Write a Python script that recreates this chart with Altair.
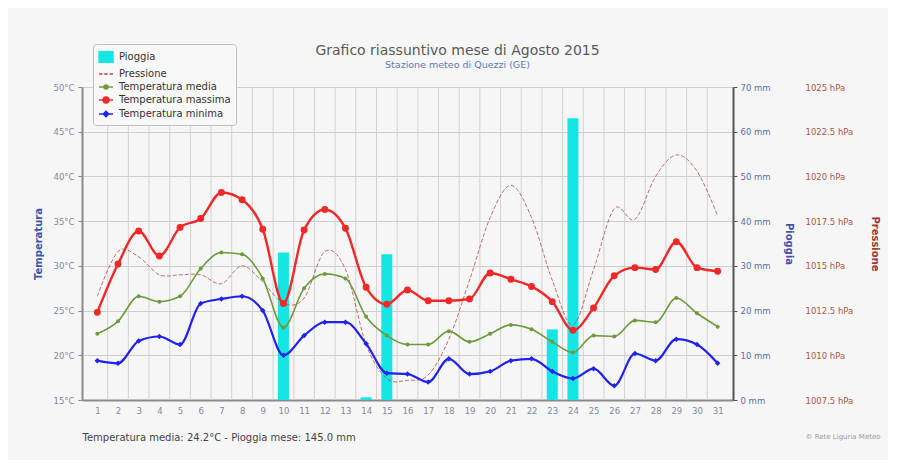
import altair as alt
import pandas as pd

# ---------------- data ----------------
days = list(range(1, 32))
t_max = [24.8, 30.2, 33.9, 31.1, 34.3, 35.3, 38.2, 37.4, 34.1, 25.8, 34.0, 36.3, 34.2, 27.6, 25.7, 27.3,
         26.1, 26.1, 26.3, 29.2, 28.5, 27.7, 26.0, 22.8, 25.3, 28.9, 29.8, 29.6, 32.7, 29.8, 29.4]
t_mean = [22.4, 23.8, 26.6, 26.0, 26.6, 29.7, 31.5, 31.3, 28.6, 23.1, 27.5, 29.1, 28.6, 24.3, 22.2, 21.2,
          21.2, 22.7, 21.5, 22.4, 23.4, 22.9, 21.5, 20.3, 22.2, 22.1, 23.9, 23.7, 26.4, 24.7, 23.2]
t_min = [19.4, 19.1, 21.6, 22.1, 21.2, 25.8, 26.3, 26.6, 25.0, 20.0, 22.2, 23.7, 23.7, 21.3, 18.0, 17.9,
         17.0, 19.6, 17.9, 18.2, 19.4, 19.6, 18.2, 17.4, 18.5, 16.6, 20.2, 19.4, 21.8, 21.2, 19.1]
rain = [0, 0, 0, 0, 0, 0, 0, 0, 0, 33.0, 0, 0, 0, 0.6, 32.6, 0,
        0, 0, 0, 0, 0, 0, 15.8, 63.0, 0, 0, 0, 0, 0, 0, 0]
pressure = [1013.3, 1015.8, 1015.5, 1014.5, 1014.5, 1014.5, 1014.0, 1015.0, 1014.1, 1012.9, 1013.2, 1015.8,
            1014.8, 1010.6, 1008.7, 1008.6, 1008.9, 1010.9, 1014.2, 1017.7, 1019.5, 1017.7, 1014.2, 1011.7,
            1014.8, 1018.2, 1017.6, 1020.0, 1021.2, 1020.3, 1017.8]

temp_ticks = [15, 20, 25, 30, 35, 40, 45, 50]
rain_ticks = [0, 10, 20, 30, 40, 50, 60, 70]
pressure_ticks = [1007.5, 1010, 1012.5, 1015, 1017.5, 1020, 1022.5, 1025]

series_names = ["Pioggia", "Pressione", "Temperatura media", "Temperatura massima", "Temperatura minima"]
series_colors = ["#14e6e6", "#b04a4a", "#6e9a3e", "#f02828", "#2222ee"]

title_text = "Grafico riassuntivo mese di Agosto 2015"
subtitle_text = "Stazione meteo di Quezzi (GE)"
footer_text = "Temperatura media: 24.2°C - Pioggia mese: 145.0 mm"
credit_text = ["© Rete Liguria Meteo"]

# ---------------- tables ----------------
df = pd.DataFrame({"giorno": days, "tmax": t_max, "tmed": t_mean, "tmin": t_min,
                   "pioggia": rain, "pressione": pressure})
grid_df = pd.DataFrame({"confine": [d + 0.5 for d in days[:-1]]})
legend_df = pd.DataFrame({"serie": series_names})
credit_df = pd.DataFrame({"t": credit_text})

W, H = 651, 313
FONT = "DejaVu Sans"
LBL = 8.5

x_scale = alt.Scale(domain=[0.5, 31.5], nice=False, zero=False)
x_axis = alt.Axis(values=days, grid=False, ticks=False, domainColor="#8a8a8a", domainWidth=2,
                  labelFontSize=LBL, labelColor="#7d8aa3", labelPadding=6, labelFont=FONT,
                  title=footer_text, titleAnchor="start", titleAlign="left", titleX=0, titleY=37,
                  titleFontSize=10, titleFontWeight="normal", titleColor="#444444", titleFont=FONT,
                  titleBaseline="middle")


def X(field):
    return alt.X(field, scale=x_scale, axis=x_axis)


temp_scale = alt.Scale(domain=[15, 50], nice=False, zero=False)
temp_axis = alt.Axis(orient="left", values=temp_ticks, labelExpr="datum.value + '°C'", grid=True,
                     gridColor="#cdcdcd", gridWidth=1, domainColor="#8a8a8a", domainWidth=2,
                     tickColor="#8a8a8a", tickSize=4, labelFontSize=LBL, labelColor="#7d8aa3",
                     labelPadding=4, labelFont=FONT, title="Temperatura", titleX=-44, titleY=H / 2,
                     titleAngle=270, titleColor="#3a55a8", titleFontSize=10, titleFont=FONT,
                     titleFontWeight="bold", titleAlign="center", titleBaseline="middle")


def YT(field):
    return alt.Y(field, scale=temp_scale, axis=temp_axis)


# vertical grid at day boundaries
grid_rules = alt.Chart(grid_df).mark_rule(color="#d2d2d2", strokeWidth=1).encode(x=X("confine:Q"))

# rain bars
rain_chart = alt.Chart(df).mark_bar(color=series_colors[0], size=11).encode(
    x=X("giorno:Q"),
    y=alt.Y("pioggia:Q", scale=alt.Scale(domain=[0, 70], nice=False, zero=True),
            axis=alt.Axis(orient="right", values=rain_ticks, labelExpr="datum.value + ' mm'",
                          grid=False, domainColor="#555555", domainWidth=2, tickColor="#555555",
                          tickSize=4, labelFontSize=LBL, labelColor="#5a6fa5", labelPadding=3,
                          labelFont=FONT, title="Pioggia", titleX=55, titleY=H / 2, titleAngle=90,
                          titleColor="#3a55a8", titleFontSize=10, titleFont=FONT, titleFontWeight="bold",
                          titleAlign="center", titleBaseline="middle")),
)

# pressure line
pressure_chart = alt.Chart(df).mark_line(color=series_colors[1], strokeWidth=1, strokeDash=[4, 2],
                                         interpolate="cardinal", opacity=0.8).encode(
    x=X("giorno:Q"),
    y=alt.Y("pressione:Q", scale=alt.Scale(domain=[1007.5, 1025], nice=False, zero=False),
            axis=alt.Axis(orient="right", values=pressure_ticks,
                          labelExpr="format(datum.value, '.1~f') + ' hPa'", grid=False, domain=False,
                          ticks=False, labelFontSize=LBL, labelColor="#b0524f", labelPadding=72,
                          labelFont=FONT, title="Pressione", titleX=141, titleY=H / 2, titleAngle=90,
                          titleColor="#a03535", titleFontSize=10, titleFont=FONT, titleFontWeight="bold",
                          titleAlign="center", titleBaseline="middle")),
)

base = alt.Chart(df)
mean_line = base.mark_line(color=series_colors[2], strokeWidth=1.6, interpolate="monotone").encode(
    x=X("giorno:Q"), y=YT("tmed:Q"))
mean_pts = base.mark_point(color=series_colors[2], filled=True, size=16, opacity=1).encode(
    x=X("giorno:Q"), y=YT("tmed:Q"))
max_line = base.mark_line(color=series_colors[3], strokeWidth=2.4, interpolate="monotone").encode(
    x=X("giorno:Q"), y=YT("tmax:Q"))
max_pts = base.mark_point(color=series_colors[3], filled=True, size=48, opacity=1).encode(
    x=X("giorno:Q"), y=YT("tmax:Q"))
min_line = base.mark_line(color=series_colors[4], strokeWidth=2.2, interpolate="monotone").encode(
    x=X("giorno:Q"), y=YT("tmin:Q"))
min_pts = base.mark_point(color=series_colors[4], filled=True, size=30, shape="diamond", opacity=1).encode(
    x=X("giorno:Q"), y=YT("tmin:Q"))

legend_shapes = [
    "M-1,-0.75H1V0.75H-1Z",
    "M-1,0H-0.5M-0.25,0H0.25M0.5,0H1",
    "M-1,0H1M0.3,0A0.3,0.3 0 1 1 -0.3,0A0.3,0.3 0 1 1 0.3,0Z",
    "M-1,0H1M0.42,0A0.42,0.42 0 1 1 -0.42,0A0.42,0.42 0 1 1 0.42,0Z",
    "M-1,0H1M0,-0.4L0.4,0L0,0.4L-0.4,0Z",
]

legend_params = dict(
    orient="none", legendX=11, legendY=-43, symbolSize=196, symbolStrokeWidth=1.4, symbolOpacity=1,
    labelFontSize=10, labelColor="#333333", labelFont=FONT, fillColor="#f8f8f8",
    strokeColor="#bdbdbd", cornerRadius=3, padding=5, rowPadding=0, labelOffset=5,
)

series_scale = alt.Scale(domain=series_names, range=series_colors)
legend_layer = alt.Chart(legend_df).mark_point(opacity=0, filled=True).encode(
    color=alt.Color("serie:N", scale=series_scale, legend=alt.Legend(**legend_params), title=None),
    stroke=alt.Stroke("serie:N", scale=series_scale, legend=alt.Legend(**legend_params), title=None),
    shape=alt.Shape("serie:N", scale=alt.Scale(domain=series_names, range=legend_shapes),
                    legend=alt.Legend(**legend_params), title=None),
)

temp_group = alt.layer(mean_line, mean_pts, max_line, max_pts, min_line, min_pts, legend_layer)

credit = alt.Chart(credit_df).mark_text(fontSize=7, color="#9a9a9a", font=FONT, align="center",
                                        baseline="middle").encode(
    text="t:N", x=alt.value(W + 110), y=alt.value(H + 37))

chart = alt.layer(grid_rules, rain_chart, pressure_chart, temp_group, credit).resolve_scale(
    y="independent"
).properties(
    width=W, height=H,
    autosize=alt.AutoSizeParams(type="none"),
    padding={"left": 74, "top": 79, "right": 155, "bottom": 60},
    background="#f6f6f6",
    title=alt.Title(text=title_text, subtitle=subtitle_text, anchor="middle", frame="group", dx=50,
                    dy=42, offset=16, fontSize=14, font=FONT, color="#5a5a5a", fontWeight="normal",
                    subtitleFontSize=9.5, subtitleColor="#5a7ab8", subtitleFont=FONT,
                    subtitlePadding=2),
).configure_view(fill="#fbfbfb", stroke=None)

chart.save("out.html", embed_options={"renderer": "svg", "actions": False})
